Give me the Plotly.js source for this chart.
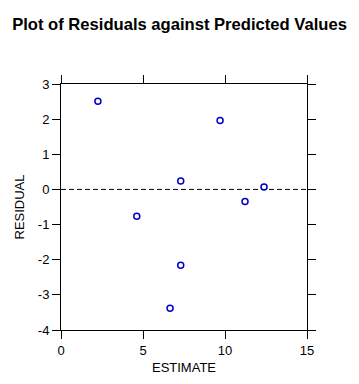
<!DOCTYPE html>
<html>
<head>
<meta charset="utf-8">
<script src="https://cdn.plot.ly/plotly-3.0.1.min.js"></script>
<style>html,body{margin:0;padding:0;background:#fff;}</style>
</head>
<body>
<div id="chart" style="width:359px;height:384px;"></div>
<script>
const estimate = [2.25, 4.62, 7.30, 9.70, 12.38, 11.22, 7.30, 6.65];
const residual = [2.51, -0.76, 0.24, 1.96, 0.07, -0.34, -2.16, -3.38];
const refLineX = [0, 15];
const refLineY = [0, 0];
const xTicks = [0, 5, 10, 15];
const yTicks = [-4, -3, -2, -1, 0, 1, 2, 3];

const traces = [
  {
    x: refLineX, y: refLineY, mode: 'lines', type: 'scatter',
    line: {color: '#000', width: 1, dash: '5px,3px'}, hoverinfo: 'skip', showlegend: false
  },
  {
    x: estimate, y: residual, mode: 'markers', type: 'scatter',
    marker: {symbol: 'circle-open', size: 6, color: '#0000cc', line: {width: 1.5, color: '#0000cc'}},
    showlegend: false
  }
];

const axisCommon = {
  showline: true, linecolor: '#000', linewidth: 1, mirror: 'allticks',
  ticks: 'outside', ticklen: 8, tickwidth: 1, tickcolor: '#000',
  showgrid: false, zeroline: false,
  tickfont: {family: 'Liberation Sans, Arial, sans-serif', size: 13, color: '#000'}
};

const layout = {
  width: 359, height: 384,
  margin: {l: 61, r: 52, t: 84, b: 54},
  paper_bgcolor: '#fff', plot_bgcolor: '#fff',
  font: {family: 'Liberation Sans, Arial, sans-serif', color: '#000'},
  title: {text: '<b>Plot of Residuals against Predicted Values</b>', x: 0.5, xanchor: 'center', y: 0.937, yanchor: 'middle',
          font: {size: 16.6, color: '#000', family: 'Liberation Sans, Arial, sans-serif'}},
  xaxis: Object.assign({}, axisCommon, {
    range: [0, 15], tickvals: xTicks, ticktext: xTicks.map(String),
    title: {text: 'ESTIMATE', standoff: 6, font: {size: 13, color: '#000'}}
  }),
  yaxis: Object.assign({}, axisCommon, {
    range: [-4, 3], tickvals: yTicks, ticktext: yTicks.map(String),
    title: {text: 'RESIDUAL', standoff: 10, font: {size: 13, color: '#000'}}
  })
};

Plotly.newPlot('chart', traces, layout, {staticPlot: true, displayModeBar: false});
</script>
</body>
</html>
